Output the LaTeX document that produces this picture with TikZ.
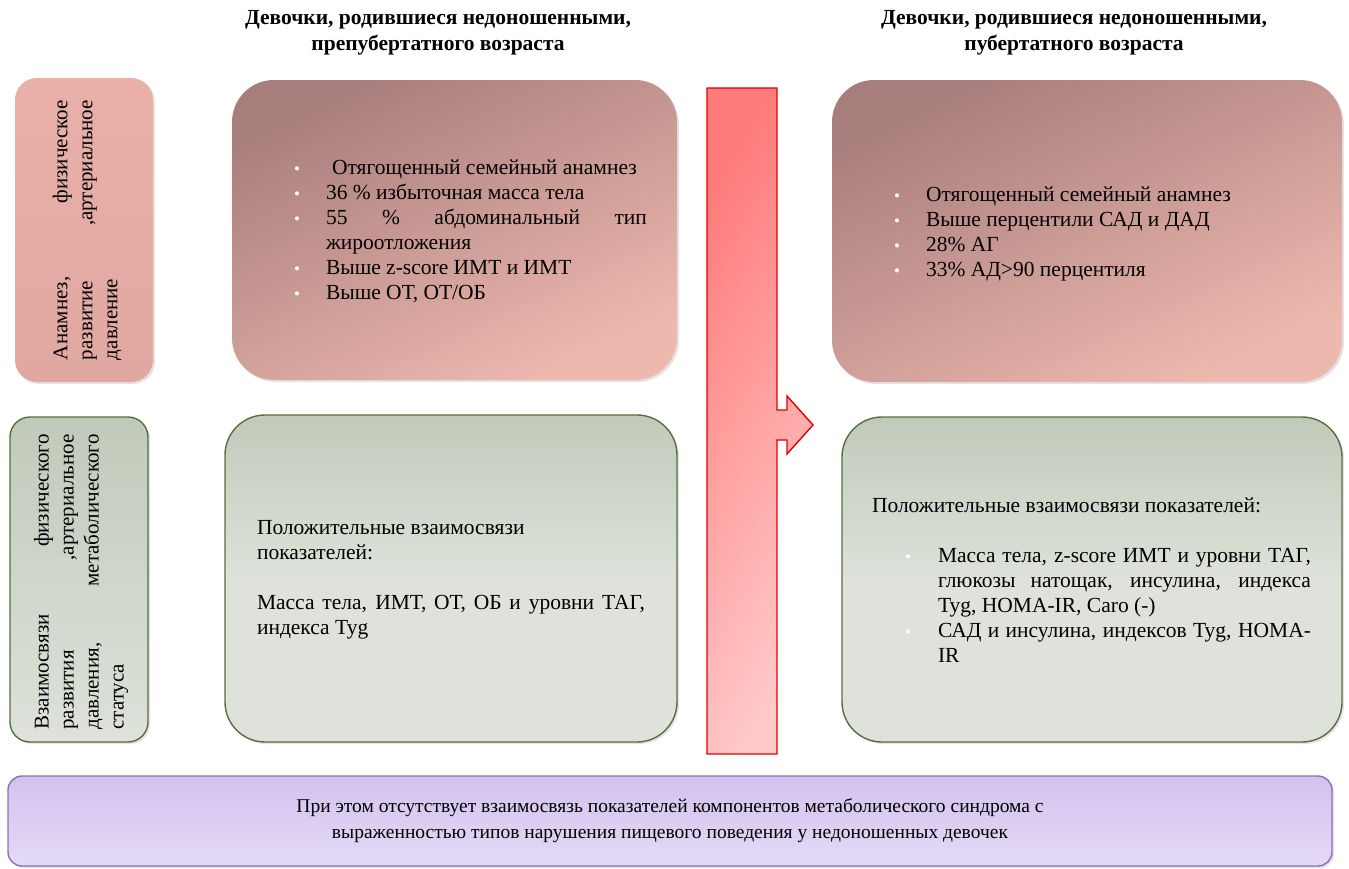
\documentclass[tikz,border=0pt]{standalone}
\usepackage{fontspec}
\setmainfont{Liberation Serif}
\usetikzlibrary{shadows}
\definecolor{pinkA}{RGB}{168,126,124}
\definecolor{pinkB}{RGB}{238,184,175}
\definecolor{pinkC}{RGB}{232,176,168}
\definecolor{pinkD}{RGB}{224,168,160}
\definecolor{greenA}{RGB}{192,202,186}
\definecolor{greenB}{RGB}{222,226,218}
\definecolor{greenE}{RGB}{84,112,62}
\definecolor{purA}{RGB}{210,194,238}
\definecolor{purB}{RGB}{228,218,246}
\definecolor{purE}{RGB}{140,110,192}
\definecolor{arrA}{RGB}{255,124,124}
\definecolor{arrB}{RGB}{255,202,202}
\definecolor{arrE}{RGB}{228,0,0}
\newcommand{\bul}[1]{\makebox[#1][l]{\hspace{1pt}\raisebox{0.5pt}{\textcolor{white}{\fontsize{17}{17}\selectfont\textbullet}}}}
\begin{document}
\begin{tikzpicture}[x=1pt,y=-1pt,
  every node/.style={inner sep=0pt, outer sep=0pt},
  boxbase/.style={anchor=north west, drop shadow={opacity=0.22, shadow xshift=2pt, shadow yshift=-2pt}},
  pinkbig/.style={boxbase, rounded corners=42pt, top color=pinkA, bottom color=pinkB, shading angle=25},
  pinksmall/.style={boxbase, rounded corners=22pt, top color=pinkC, bottom color=pinkD},
  greenbig/.style={boxbase, rounded corners=40pt, top color=greenA, bottom color=greenB, middle color=greenB, draw=greenE, line width=1.4pt},
  greensmall/.style={boxbase, rounded corners=20pt, top color=greenA, bottom color=greenB, draw=greenE, line width=1.4pt},
  purbox/.style={boxbase, rounded corners=14pt, top color=purA, bottom color=purB, draw=purE, line width=1.4pt},
  hdr/.style={font=\bfseries\fontsize{21.5}{26}\selectfont, align=center},
  body/.style={font=\fontsize{21.5}{25}\selectfont, align=left, anchor=north west},
  rottxt/.style={font=\fontsize{21}{25}\selectfont, align=left, rotate=90},
  bottxt/.style={font=\fontsize{19.5}{26}\selectfont, align=center}
]
\useasboundingbox (0,0) rectangle (1349,868);

% headers
\node[hdr] (hl) at (438,33) {Девочки, родившиеся недоношенными,\\препубертатного возраста};
\node[hdr] (hr) at (1074,33) {Девочки, родившиеся недоношенными,\\пубертатного возраста};

% left label boxes
\node[pinksmall, minimum width=138pt, minimum height=304pt] (lt) at (15,78) {};
\node[greensmall, minimum width=138pt, minimum height=325pt] (lb) at (10,417) {};
\node[rottxt] (ltt) at (87,230) {\makebox[260pt][s]{Анамнез, физическое}\\\makebox[260pt][s]{развитие ,артериальное}\\давление};
\node[rottxt] (lbt) at (81,582) {\makebox[295pt][s]{Взаимосвязи физического}\\\makebox[295pt][s]{развития ,артериальное}\\\makebox[295pt][s]{давления, метаболического}\\статуса};

% middle boxes
\node[pinkbig, minimum width=445pt, minimum height=300pt] (mt) at (232,80) {};
\node[greenbig, minimum width=452pt, minimum height=327pt] (mb) at (225,415) {};

% arrow
\path[draw=arrE, line width=1.4pt, left color=arrA, right color=arrB, shading angle=60]
  (707,88) -- (777,88) -- (777,410) -- (787,410) -- (787,396) -- (813,425)
  -- (787,454) -- (787,440) -- (777,440) -- (777,754) -- (707,754) -- cycle;

% right boxes
\node[pinkbig, minimum width=510pt, minimum height=302pt] (rt) at (832,80) {};
\node[greenbig, minimum width=500pt, minimum height=325pt] (rb) at (842,417) {};

% bottom box
\node[purbox, minimum width=1324pt, minimum height=90pt] (bot) at (8,776) {};

% texts
\node[body] (mtt) at (293,160) {%
\bul{33pt}\hspace*{6pt}Отягощенный семейный анамнез\\
\bul{33pt}36 \% избыточная масса тела\\
\bul{33pt}\makebox[321pt][s]{55 \% абдоминальный тип}\\
\hspace*{33pt}жироотложения\\
\bul{33pt}Выше z-score ИМТ и ИМТ\\
\bul{33pt}Выше ОТ, ОТ/ОБ};

\node[body] (mbt) at (257,520) {%
Положительные взаимосвязи\\
показателей:\\[25pt]
\makebox[388pt][s]{Масса тела, ИМТ, ОТ, ОБ и уровни ТАГ,}\\
индекса Tyg};

\node[body] (rtt) at (893,187) {%
\bul{33pt}Отягощенный семейный анамнез\\
\bul{33pt}Выше перцентили САД и ДАД\\
\bul{33pt}28\% АГ\\
\bul{33pt}33\% АД>90 перцентиля};

\node[body] (rbt) at (872,498) {%
Положительные взаимосвязи показателей:\\[25pt]
\hspace*{32pt}\bul{34pt}\makebox[373pt][s]{Масса тела, z-score ИМТ и уровни ТАГ,}\\
\hspace*{66pt}\makebox[373pt][s]{глюкозы натощак, инсулина, индекса}\\
\hspace*{66pt}Tyg, HOMA-IR, Caro (-)\\
\hspace*{32pt}\bul{34pt}\makebox[373pt][s]{САД и инсулина, индексов Tyg, HOMA-}\\
\hspace*{66pt}IR};

\node[bottxt] (bott) at (670,821) {При этом отсутствует взаимосвязь показателей компонентов метаболического синдрома с\\выраженностью типов нарушения пищевого поведения у недоношенных девочек};
\end{tikzpicture}
\end{document}
